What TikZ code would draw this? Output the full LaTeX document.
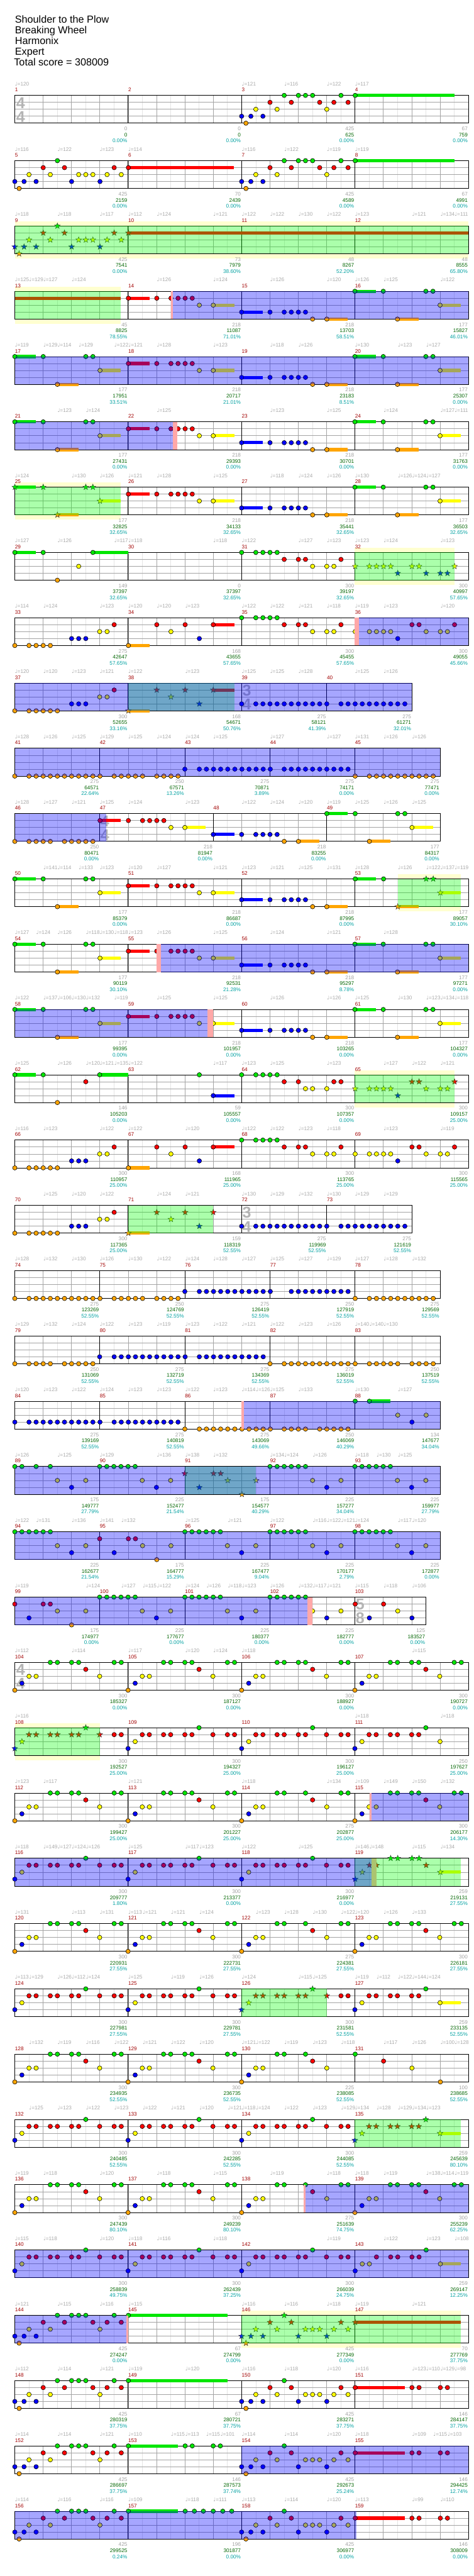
\documentclass[tikz,border=0pt]{standalone}
\usepackage{fontspec}
\setmainfont{Liberation Sans}
\newfontfamily\symfont{DejaVu Sans}
\usetikzlibrary{shapes.geometric}
\definecolor{lane0}{HTML}{00E600}
\definecolor{lane1}{HTML}{FF0000}
\definecolor{lane2}{HTML}{FFFF00}
\definecolor{lane3}{HTML}{0000FF}
\definecolor{lane4}{HTML}{FFA500}
\definecolor{gridlt}{HTML}{E4E4E4}
\definecolor{gridmd}{HTML}{A4A4A4}
\definecolor{odyel}{HTML}{FFFFD0}
\definecolor{odgreen}{HTML}{00FF00}
\definecolor{actblue}{HTML}{0000FF}
\definecolor{pinkbar}{HTML}{FFA8A8}
\definecolor{mnred}{HTML}{A00000}
\definecolor{tempog}{HTML}{A8A8A8}
\definecolor{scgray}{HTML}{A0A0A0}
\definecolor{scgreen}{HTML}{006400}
\definecolor{scteal}{HTML}{00A0A0}
\definecolor{tsgray}{HTML}{B4B4B4}
\pgfdeclarelayer{bg}\pgfdeclarelayer{ov}\pgfsetlayers{bg,main,ov}
\newcommand\lblfont{\fontsize{5.6}{6}\selectfont}
% row k: staff top at 206+141k, lanes 15 apart
\newcommand\staff[3]{\begin{scope}[shift={(0,{206+141*#1})}]
 \foreach \x in {93.9375,185.8125,...,#2} \draw[minor] (\x,0) -- (\x,60);
 \foreach \x in {139.875,231.75,...,#2} \draw[major] (\x,0) -- (\x,60);
 \foreach \y in {15,30,45} \draw[major] (48,\y) -- (#2,\y);
 \foreach \x in {#3} \draw[barl] (\x,0) -- (\x,60);
 \draw[barl] (48,0) rectangle (#2,60);
 \end{scope}}
\newcommand\gm[4][0]{\foreach \x in {#4}{\filldraw[gem,fill=lane#3] ({#1+\x},{206+141*#2+15*#3}) circle (2.4pt);}}
\newcommand\sr[4][0]{\foreach \x in {#4}{\pgfmathtruncatemacro\xx{#1+\x}%
 \node[stargem,fill=lane#3] (st-#2-#3-\xx) at ({#1+\x},{206+141*#2+15*#3}) {};}}
\newcommand\sus[4]{\fill[lane#2] ({#3},{206+141*#1+15*#2-3.5}) rectangle ({#4},{206+141*#1+15*#2+3.5});}
\newcommand\odm[3]{\begin{pgfonlayer}{bg}\fill[odyel] ({#2},{196+141*#1}) rectangle ({#3},{206+141*#1});
 \fill[odyel] ({#2},{266+141*#1}) rectangle ({#3},{276+141*#1});\end{pgfonlayer}}
\newcommand\odr[3]{\begin{pgfonlayer}{ov}\fill[odgreen,opacity=0.33] ({#2},{206+141*#1}) rectangle ({#3},{266+141*#1});\end{pgfonlayer}}
\newcommand\act[3]{\begin{pgfonlayer}{ov}\fill[actblue,opacity=0.35] ({#2},{206+141*#1}) rectangle ({#3},{266+141*#1});\end{pgfonlayer}}
\newcommand\pinkbar[3]{\begin{pgfonlayer}{ov}\fill[pinkbar] ({#2},{206+141*#1}) rectangle ({#3},{266+141*#1});\end{pgfonlayer}}
\newcommand\tsig[4]{\node[tsg] (ts-#1-a) at (#2,{222+141*#1}) {#3};\node[tsg] (ts-#1-b) at (#2,{252+141*#1}) {#4};}
\newcommand\mnums[2]{\foreach \x/\n in {#2}{\node[mnum] (m\n) at (\x,{198+141*#1}) {\n};}}
\newcommand\tempos[2]{\foreach \x/\tv in {#2}{\node[tmp] (tp-#1-\x) at (\x,{185+141*#1}) {{\symfont ♩}=\tv};}}
\newcommand\scores[2]{\foreach \x/\sA/\sB/\sC in {#2}{%
 \node[scA] (sa-#1-\x) at ({\x-2},{282+141*#1}) {\sA};
 \node[scB] (sb-#1-\x) at ({\x-2},{295+141*#1}) {\sB};
 \node[scC] (sc-#1-\x) at ({\x-2},{308+141*#1}) {\sC\%};}}
% riffs, offsets from the measure start
\newcommand\patA[3]{#3[#2]{#1}{3}{0,30,69}#3[#2]{#1}{4}{14}#3[#2]{#1}{2}{46,115,276}#3[#2]{#1}{1}{92,161,253,299,345}#3[#2]{#1}{0}{138,184,207,230,322,368}}
\newcommand\patAp[3]{#3[#2]{#1}{3}{0,30,69,184,276}#3[#2]{#1}{4}{14}#3[#2]{#1}{2}{46,115,207,230,253,299,345}#3[#2]{#1}{1}{92,161,322,368}#3[#2]{#1}{0}{138}}
\newcommand\patR[3]{\sus{#1}{1}{#2+1}{#2+69}\sus{#1}{2}{#2+276}{#2+344}#3[#2]{#1}{1}{1,93,139,162,185,208}#3[#2]{#1}{2}{231,276}}
\newcommand\patB[3]{\sus{#1}{3}{#2}{#2+68}\sus{#1}{4}{#2+276}{#2+344}#3[#2]{#1}{3}{0,92,138,161,184,207}#3[#2]{#1}{4}{230,276}}
\newcommand\patG[3]{\sus{#1}{0}{#2}{#2+68}\sus{#1}{4}{#2+138}{#2+206}\sus{#1}{2}{#2+276}{#2+344}#3[#2]{#1}{0}{0,92,230,253}#3[#2]{#1}{4}{138}#3[#2]{#1}{2}{276}}
\newcommand\patX[3]{#3[#2]{#1}{4}{0,46,69,92,115}#3[#2]{#1}{3}{184,207,230}#3[#2]{#1}{2}{275,299}#3[#2]{#1}{1}{322}}
\newcommand\patY[3]{\sus{#1}{4}{#2+1}{#2+69}#3[#2]{#1}{4}{1}#3[#2]{#1}{1}{93,185,276}#3[#2]{#1}{2}{139}#3[#2]{#1}{3}{231}}
\newcommand\patZ[3]{#3[#2]{#1}{0}{0,46,69,92,115}#3[#2]{#1}{1}{138,184,207,322}#3[#2]{#1}{2}{230,276,299}}
\newcommand\patW[3]{#3[#2]{#1}{2}{1,47,70,93,116,231,277,300}#3[#2]{#1}{1}{185,208,323}#3[#2]{#1}{3}{139}}
\newcommand\patQ[3]{#3[#2]{#1}{4}{0}#3[#2]{#1}{3}{23}#3[#2]{#1}{2}{46,69,275}#3[#2]{#1}{0}{115,138,184,207,322,345}#3[#2]{#1}{1}{230}}
\newcommand\patQb[3]{#3[#2]{#1}{4}{0}#3[#2]{#1}{3}{23}#3[#2]{#1}{2}{46,69,276}#3[#2]{#1}{0}{115,138,207}#3[#2]{#1}{1}{230}}
\newcommand\patS[3]{#3[#2]{#1}{3}{0}#3[#2]{#1}{2}{23}#3[#2]{#1}{1}{46,69,115,138,184,207,275,322,345}#3[#2]{#1}{0}{230}}
\newcommand\patSb[3]{#3[#2]{#1}{3}{0}#3[#2]{#1}{2}{23,276}#3[#2]{#1}{1}{46,69,115,138,184,207}#3[#2]{#1}{0}{230}}
\newcommand\patV[3]{#3[#2]{#1}{0}{0,23,46,69,92,115}#3[#2]{#1}{2}{138,230}#3[#2]{#1}{3}{184}}
\begin{document}
\begin{tikzpicture}[x=0.33333pt,y=-0.5pt,
 minor/.style={gridlt,line width=0.5pt},
 major/.style={gridmd,line width=0.5pt},
 barl/.style={black,line width=0.6pt},
 gem/.style={draw=black,line width=0.4pt},
 stargem/.style={star,star points=5,star point ratio=2.4,minimum size=6.6pt,inner sep=0pt,draw=black!80,line width=0.3pt},
 ttl/.style={anchor=base west,inner sep=0pt,font=\fontsize{11}{12}\selectfont},
 mnum/.style={anchor=base west,inner sep=0pt,text=mnred,font=\lblfont},
 tmp/.style={anchor=base west,inner sep=0pt,text=tempog,font=\lblfont},
 scA/.style={anchor=base east,inner sep=0pt,text=scgray,font=\lblfont},
 scB/.style={anchor=base east,inner sep=0pt,text=scgreen,font=\lblfont},
 scC/.style={anchor=base east,inner sep=0pt,text=scteal,font=\lblfont},
 tsg/.style={inner sep=0pt,text=tsgray,font=\fontsize{17}{17}\selectfont\bfseries}]
\useasboundingbox (0,0) rectangle (1536,5563);
\node[ttl] (song) at (48,50) {Shoulder to the Plow};
\node[ttl] (band) at (48,73) {Breaking Wheel};
\node[ttl] (author) at (48,96) {Harmonix};
\node[ttl] (level) at (48,119) {Expert};
\node[ttl] (total) at (45,142) {Total score = 308009};
% 1-4
\staff{0}{1518}{415,783,1150}\tsig{0}{67}{4}{4}
\sus{0}{0}{1151}{1472}\patA{0}{783}{\gm}
\mnums{0}{48/1,415/2,783/3,1150/4}
\tempos{0}{48/120,783/121,921/116,1059/122,1150/117}
\scores{0}{415/0/0/0.00,783/0/0/0.00,1150/425/625/0.00,1518/67/759/0.00}
% 5-8
\staff{1}{1518}{415,783,1150}
\sus{1}{1}{416}{758}\patAp{1}{48}{\gm}\sus{1}{0}{1151}{1472}\patA{1}{783}{\gm}
\mnums{1}{48/5,415/6,783/7,1150/8}
\tempos{1}{48/116,186/122,323/123,415/114,783/116,921/122,1059/119,1150/119}
\scores{1}{415/425/2159/0.00,783/70/2439/0.00,1150/425/4589/0.00,1518/67/4991/0.00}
% 9-12
\odm{2}{48}{1518}\staff{2}{1518}{415,783,1150}
\sus{2}{1}{416}{1518}\patAp{2}{48}{\sr}
\odr{2}{48}{1518}
\mnums{2}{48/9,415/10,783/11,1150/12}
\tempos{2}{48/118,186/118,323/117,415/112,508/124,691/121,783/122,875/122,967/130,1059/122,1150/123,1335/121,1427/134,1473/111}
\scores{2}{415/425/7541/0.00,783/73/7979/38.60,1150/48/8267/52.20,1518/48/8555/65.80}
% 13-16
\odm{3}{48}{392}\staff{3}{1518}{415,783,1150}
\sus{3}{1}{48}{392}\patR{3}{415}{\gm}\patB{3}{783}{\gm}\patG{3}{1150}{\gm}
\pinkbar{3}{554}{561}\odr{3}{48}{392}\act{3}{561}{1518}
\mnums{3}{48/13,415/14,783/15,1150/16}
\tempos{3}{48/125,94/129,140/127,232/124,508/126,691/124,875/126,1059/120,1150/126,1243/125,1427/122}
\scores{3}{415/45/8825/78.55,783/218/11087/71.01,1150/218/13703/58.51,1518/177/15827/46.01}
% 17-20
\staff{4}{1518}{415,783,1150}
\patG{4}{48}{\gm}\patR{4}{415}{\gm}\patB{4}{783}{\gm}\patG{4}{1150}{\gm}
\act{4}{48}{1518}
\mnums{4}{48/17,415/18,783/19,1150/20}
\tempos{4}{48/119,140/129,186/114,255/129,370/122,416/121,508/128,691/123,875/118,967/126,1150/130,1289/123,1381/127}
\scores{4}{415/177/17951/33.51,783/218/20717/21.01,1150/218/23183/8.51,1518/177/25307/0.00}
% 21-24
\staff{5}{1518}{415,783,1150}
\patG{5}{48}{\gm}\patR{5}{415}{\gm}\patB{5}{783}{\gm}\patG{5}{1150}{\gm}
\pinkbar{5}{560}{575}\act{5}{48}{560}
\mnums{5}{48/21,415/22,783/23,1150/24}
\tempos{5}{186/123,278/124,508/125,875/123,1059/125,1243/124,1427/127,1473/111}
\scores{5}{415/177/27431/0.00,783/218/29393/0.00,1150/218/30701/0.00,1518/177/31763/0.00}
% 25-28
\odm{6}{48}{392}\staff{6}{1518}{415,783,1150}
\patG{6}{48}{\sr}\patR{6}{415}{\gm}\patB{6}{783}{\gm}\patG{6}{1150}{\gm}
\odr{6}{48}{392}
\mnums{6}{48/25,415/26,783/27,1150/28}
\tempos{6}{48/124,232/130,323/126,415/121,508/128,691/125,875/118,967/124,1059/126,1150/130,1289/126,1335/124,1381/127}
\scores{6}{415/177/32825/32.65,783/218/34133/32.65,1150/218/35441/32.65,1518/177/36503/32.65}
% 29-32
\odm{7}{1150}{1472}\staff{7}{1518}{415,783,1150}
\sus{7}{0}{48}{116}\sus{7}{0}{301}{415}\gm{7}{0}{48,140,301}\gm{7}{4}{186}\gm{7}{2}{255}
\patZ{7}{783}{\gm}
\sr{7}{2}{1151,1197,1220,1243,1266,1335,1358,1473}\sr{7}{3}{1289,1381,1427,1450}
\odr{7}{1150}{1472}
\mnums{7}{48/29,415/30,783/31,1150/32}
\tempos{7}{48/127,186/126,370/117,416/118,691/118,783/122,967/127,1059/123,1150/123,1243/124,1427/123}
\scores{7}{415/149/37397/32.65,783/0/37397/32.65,1150/300/39197/32.65,1518/300/40997/57.65}
% 33-36
\staff{8}{1518}{415,783,1150}
\patX{8}{48}{\gm}\sus{8}{1}{691}{759}\patY{8}{415}{\gm}\patZ{8}{783}{\gm}\patW{8}{1150}{\gm}
\pinkbar{8}{1150}{1163}\act{8}{1163}{1518}
\mnums{8}{48/33,415/34,783/35,1150/36}
\tempos{8}{48/114,140/124,323/123,415/120,508/120,600/123,783/122,875/122,967/121,1059/118,1150/119,1243/123,1427/120}
\scores{8}{415/275/42647/57.65,783/168/43655/57.65,1150/300/45455/57.65,1518/300/49055/45.66}
% 37-40
\staff{9}{1335}{415,783,1059}\tsig{9}{800}{3}{4}
\patX{9}{48}{\gm}\gm{9}{4}{186}\sus{9}{1}{691}{759}\patY{9}{415}{\sr}
\gm{9}{3}{783}\gm{9}{3}{829,852,...,1059}\gm{9}{3}{1105,1128,...,1312}
\odr{9}{415}{759}\act{9}{48}{1335}
\mnums{9}{48/37,415/38,783/39,1059/40}
\tempos{9}{48/120,140/120,232/123,323/121,415/122,600/123,783/125,875/125,967/128,1150/125,1243/126}
\scores{9}{415/300/52655/33.16,783/168/54671/50.76,1059/275/58121/41.39,1335/275/61271/32.01}
% 41-45
\staff{10}{1426}{323,599,875,1150}
\gm{10}{4}{48}\gm{10}{4}{94,117,...,324}\gm{10}{4}{370,393,...,462}\gm{10}{4}{508,531,554,577}
\gm{10}{3}{599}\gm{10}{3}{646,669,...,876}\gm{10}{3}{921,944,...,1128}
\gm{10}{4}{1151}\gm{10}{4}{1197,1220,...,1404}
\act{10}{48}{1426}
\mnums{10}{48/41,323/42,599/43,875/44,1150/45}
\tempos{10}{48/128,140/126,232/125,323/129,415/125,508/124,600/124,691/125,875/127,1059/127,1150/131,1243/126,1335/126}
\scores{10}{323/275/64571/22.64,599/250/67571/13.26,875/275/70871/3.89,1150/275/74171/0.00,1426/275/77471/0.00}
% 46-49
\staff{11}{1426}{323,691,1059}\tsig{11}{340}{4}{4}
\gm{11}{4}{48,94,117,140,163,209,232,255,278,301}
\patR{11}{323}{\gm}\patB{11}{691}{\gm}\patG{11}{1059}{\gm}
\act{11}{48}{345}
\mnums{11}{48/46,323/47,691/48,1059/49}
\tempos{11}{48/128,140/127,232/121,323/125,415/124,600/123,783/122,875/124,967/120,1059/119,1150/125,1243/126,1335/125}
\scores{11}{323/250/80471/0.00,691/218/81947/0.00,1059/218/83255/0.00,1426/177/84317/0.00}
% 50-53
\odm{12}{1289}{1494}\staff{12}{1518}{415,783,1150}
\patG{12}{48}{\gm}\patR{12}{415}{\gm}\patB{12}{783}{\gm}
\sus{12}{0}{1151}{1219}\sus{12}{4}{1289}{1357}\sus{12}{2}{1427}{1494}
\gm{12}{0}{1151,1243}\sr{12}{4}{1289}\sr{12}{0}{1381,1404}\sr{12}{2}{1427}
\odr{12}{1289}{1494}
\mnums{12}{48/50,415/51,783/52,1150/53}
\tempos{12}{140/141,186/114,255/133,323/123,415/120,508/127,691/121,783/123,875/121,967/125,1059/131,1150/128,1289/126,1381/122,1427/137,1473/119}
\scores{12}{415/177/85379/0.00,783/218/86687/0.00,1150/218/87995/0.00,1518/177/89057/30.10}
% 54-57
\staff{13}{1518}{415,783,1150}
\patG{13}{48}{\gm}\patR{13}{415}{\gm}\patB{13}{783}{\gm}\patG{13}{1150}{\gm}
\pinkbar{13}{508}{521}\act{13}{521}{1518}
\mnums{13}{48/54,415/55,783/56,1150/57}
\tempos{13}{48/127,117/124,186/126,278/118,323/130,370/118,416/123,508/126,691/125,875/124,1059/121,1243/128}
\scores{13}{415/177/90119/30.10,783/218/92531/21.28,1150/218/95297/8.78,1518/177/97271/0.00}
% 58-61
\staff{14}{1518}{415,783,1150}
\patG{14}{48}{\gm}\patR{14}{415}{\gm}\patB{14}{783}{\gm}\patG{14}{1150}{\gm}
\pinkbar{14}{672}{691}\act{14}{48}{672}
\mnums{14}{48/58,415/59,783/60,1150/61}
\tempos{14}{48/122,140/137,186/106,232/130,278/132,370/119,508/125,691/125,875/126,1059/126,1150/125,1289/130,1381/123,1427/134,1473/118}
\scores{14}{415/177/99395/0.00,783/218/101957/0.00,1150/218/103265/0.00,1518/177/104327/0.00}
% 62-65
\odm{15}{1150}{1472}\staff{15}{1518}{415,783,1150}
\sus{15}{0}{48}{116}\sus{15}{0}{323}{415}\gm{15}{0}{48,140,323}\gm{15}{4}{186}\gm{15}{1}{278}
\gm{15}{0}{646}\sus{15}{3}{691}{759}\gm{15}{3}{691}
\gm{15}{0}{783,829,852,875,898}\gm{15}{1}{921,967,1082,1105}\gm{15}{2}{990,1013,1059}
\patW{15}{1150}{\sr}
\odr{15}{1150}{1472}
\mnums{15}{48/62,415/63,783/64,1150/65}
\tempos{15}{48/125,186/126,278/120,323/121,370/135,416/122,691/117,783/123,875/125,1059/123,1243/127,1335/122,1427/121}
\scores{15}{415/146/105203/0.00,783/59/105557/0.00,1150/300/107357/0.00,1518/300/109157/25.00}
% 66-69
\staff{16}{1518}{415,783,1150}
\patX{16}{48}{\gm}\gm{16}{4}{186}\sus{16}{1}{691}{759}\patY{16}{415}{\gm}\patZ{16}{783}{\gm}\patW{16}{1150}{\gm}
\mnums{16}{48/66,415/67,783/68,1150/69}
\tempos{16}{48/116,140/123,323/122,415/122,600/120,783/122,875/122,967/123,1059/118,1243/123,1427/119}
\scores{16}{415/300/110957/25.00,783/168/111965/25.00,1150/300/113765/25.00,1518/300/115565/25.00}
% 70-73
\staff{17}{1335}{415,783,1059}\tsig{17}{800}{3}{4}
\patX{17}{48}{\gm}\gm{17}{4}{186}\patY{17}{415}{\sr}
\gm{17}{3}{783}\gm{17}{3}{829,852,...,1059}\gm{17}{3}{1105,1128,...,1312}
\odr{17}{415}{691}
\mnums{17}{48/70,415/71,783/72,1059/73}
\tempos{17}{140/125,232/120,323/122,508/124,600/121,783/130,875/129,967/132,1059/130,1150/129,1243/129}
\scores{17}{415/300/117365/25.00,783/159/118319/52.55,1059/275/119969/52.55,1335/275/121619/52.55}
% 74-78
\staff{18}{1426}{323,599,875,1150}
\gm{18}{4}{48}\gm{18}{4}{94,117,...,324}\gm{18}{4}{370,393,...,462}\gm{18}{4}{508,531,554,577}
\gm{18}{3}{599}\gm{18}{3}{646,669,...,876}\gm{18}{3}{944,967,...,1128}
\gm{18}{4}{1151}\gm{18}{4}{1197,1220,...,1404}
\mnums{18}{48/74,323/75,599/76,875/77,1150/78}
\tempos{18}{48/128,140/132,232/130,323/126,415/130,508/122,600/124,691/128,783/127,875/125,967/127,1059/129,1150/127,1243/128,1335/132}
\scores{18}{323/275/123269/52.55,599/250/124769/52.55,875/275/126419/52.55,1150/250/127919/52.55,1426/275/129569/52.55}
% 79-83
\staff{19}{1426}{323,599,875,1150}
\gm{19}{4}{48,94,117,140,163,209,232,255,278,301}
\gm{19}{3}{323}\gm{19}{3}{370,393,...,600}\gm{19}{3}{646,669,...,853}
\gm{19}{4}{875}\gm{19}{4}{921,944,...,1151}\gm{19}{4}{1197,1220,1243,1266,1289,1335,1358,1381,1404}
\mnums{19}{48/79,323/80,599/81,875/82,1150/83}
\tempos{19}{48/129,140/132,232/124,323/122,415/123,508/119,600/123,691/122,783/121,875/122,967/123,1059/126,1150/140,1197/140,1243/130}
\scores{19}{323/250/131069/52.55,599/275/132719/52.55,875/275/134369/52.55,1150/275/136019/52.55,1426/250/137519/52.55}
% 84-88
\staff{20}{1426}{323,599,875,1150}
\gm{20}{3}{48}\gm{20}{3}{94,117,...,324}\gm{20}{3}{370,393,...,577}
\gm{20}{4}{599}\gm{20}{4}{646,669,...,876}\gm{20}{4}{921,944,967,990,1036,1059,1082,1105,1128}
\sus{20}{0}{1197}{1265}\gm{20}{0}{1151,1197}\gm{20}{2}{1289,1381}\gm{20}{3}{1335}
\pinkbar{20}{783}{790}\act{20}{790}{1426}
\mnums{20}{48/84,323/85,599/86,875/87,1150/88}
\tempos{20}{48/120,140/123,232/122,323/124,415/123,508/123,600/122,691/123,783/114,829/126,875/125,967/133,1150/130,1289/127}
\scores{20}{323/275/139169/52.55,599/275/140819/52.55,875/275/143069/49.66,1150/250/146069/40.29,1426/134/147677/34.04}
% 89-93
\staff{21}{1426}{323,599,875,1150}
\gm{21}{0}{48,71,117,163}\gm{21}{2}{186,278}\gm{21}{3}{232}\patV{21}{323}{\gm}
\sr{21}{1}{599,692,715}\sr{21}{3}{646}\sr{21}{2}{738,830}\sr{21}{4}{784}
\patV{21}{875}{\gm}\patV{21}{1150}{\gm}
\odr{21}{599}{829}\act{21}{48}{1426}
\mnums{21}{48/89,323/90,599/91,875/92,1150/93}
\tempos{21}{48/126,186/125,323/129,508/136,600/138,691/132,875/134,921/124,1013/126,1150/118,1220/130,1289/125}
\scores{21}{323/175/149777/27.79,599/225/152477/21.54,875/175/154577/40.29,1150/225/157277/34.04,1426/225/159977/27.79}
% 94-98
\staff{22}{1426}{323,599,875,1150}
\patV{22}{48}{\gm}\gm{22}{1}{323,416,439}\gm{22}{3}{370}\gm{22}{2}{462,554}\gm{22}{4}{508}
\patV{22}{599}{\gm}\patV{22}{875}{\gm}\patV{22}{1150}{\gm}
\act{22}{48}{1426}
\mnums{22}{48/94,323/95,599/96,875/97,1150/98}
\tempos{22}{48/122,117/131,232/136,323/141,393/132,600/125,738/121,875/122,1013/116,1059/122,1105/121,1150/124,1289/117,1335/120}
\scores{22}{323/225/162677/21.54,599/175/164777/15.29,875/225/167477/9.04,1150/225/170177/2.79,1426/225/172877/0.00}
% 99-103
\staff{23}{1380}{323,599,875,1150}\tsig{23}{1167}{5}{8}
\gm{23}{1}{48,140,163}\gm{23}{3}{94}\gm{23}{2}{186,278}\gm{23}{4}{232}
\patV{23}{323}{\gm}\patV{23}{599}{\gm}\patV{23}{875}{\gm}
\gm{23}{1}{1151,1243}\gm{23}{2}{1289}\gm{23}{3}{1197,1335}
\pinkbar{23}{997}{1013}\act{23}{48}{997}
\mnums{23}{48/99,323/100,599/101,875/102,1150/103}
\tempos{23}{48/119,278/124,393/127,462/115,508/122,600/124,669/126,738/118,784/123,875/126,967/132,1013/117,1059/121,1150/115,1243/118,1335/106}
\scores{23}{323/175/174977/0.00,599/225/177677/0.00,875/225/180377/0.00,1150/225/182777/0.00,1380/125/183527/0.00}
% 104-107
\staff{24}{1518}{415,783,1150}\tsig{24}{67}{4}{4}
\patQ{24}{48}{\gm}\patQ{24}{415}{\gm}\patQ{24}{783}{\gm}\patQ{24}{1150}{\gm}
\mnums{24}{48/104,415/105,783/106,1150/107}
\tempos{24}{48/112,232/114,415/117,600/120,691/124,783/118,1335/115}
\scores{24}{415/300/185327/0.00,783/300/187127/0.00,1150/300/188927/0.00,1518/300/190727/0.00}
% 108-111
\odm{25}{48}{323}\staff{25}{1518}{415,783,1150}
\sr{25}{3}{48}\sr{25}{2}{71}\sr{25}{1}{94,117,163,186,232,255,323}\sr{25}{0}{278}\gm{25}{1}{370,393}
\patS{25}{415}{\gm}\patS{25}{783}{\gm}\patSb{25}{1150}{\gm}
\odr{25}{48}{323}
\mnums{25}{48/108,415/109,783/110,1150/111}
\tempos{25}{48/116,1150/118,1427/118}
\scores{25}{415/300/192527/25.00,783/300/194327/25.00,1150/300/196127/25.00,1518/250/197627/25.00}
% 112-115
\staff{26}{1518}{415,783,1150}
\patQ{26}{48}{\gm}\patQ{26}{415}{\gm}\patQb{26}{783}{\gm}\gm{26}{0}{1105,1128}\patQ{26}{1150}{\gm}
\pinkbar{26}{1197}{1203}\act{26}{1203}{1518}
\mnums{26}{48/112,415/113,783/114,1150/115}
\tempos{26}{48/123,140/117,415/121,783/118,1059/134,1150/109,1243/149,1335/150,1427/132}
\scores{26}{415/300/199427/25.00,783/300/201227/25.00,1150/275/202877/25.00,1518/300/206177/14.30}
% 116-119
\staff{27}{1518}{415,783,1150}
\patS{27}{48}{\gm}\patS{27}{415}{\gm}\patS{27}{783}{\gm}
\sus{27}{2}{1427}{1494}\sr{27}{3}{1151}\sr{27}{2}{1174,1427}\sr{27}{1}{1197,1220,1381}\sr{27}{0}{1266,1289,1335,1358}
\pinkbar{27}{1203}{1220}\odr{27}{1150}{1494}\act{27}{48}{1203}
\mnums{27}{48/116,415/117,783/118,1150/119}
\tempos{27}{48/118,140/149,186/127,232/124,278/126,415/125,600/117,646/123,783/122,967/125,1150/146,1197/148,1335/115,1427/134}
\scores{27}{415/300/209777/1.80,783/300/213377/0.00,1150/300/216977/0.00,1518/259/219131/27.55}
% 120-123
\staff{28}{1518}{415,783,1150}
\patQ{28}{48}{\gm}\patQ{28}{415}{\gm}\patQb{28}{783}{\gm}\gm{28}{0}{1105,1128}\patQ{28}{1150}{\gm}
\mnums{28}{48/120,415/121,783/122,1150/123}
\tempos{28}{48/131,232/113,323/131,415/113,462/121,554/121,646/124,829/123,921/128,1013/130,1105/122,1150/120,1243/126,1335/133}
\scores{28}{415/300/220931/27.55,783/300/222731/27.55,1150/275/224381/27.55,1518/300/226181/27.55}
% 124-127
\staff{29}{1518}{415,783,1150}
\patS{29}{48}{\gm}\patS{29}{415}{\gm}
\sr{29}{3}{783}\sr{29}{2}{806}\sr{29}{1}{829,852,898,921,967,990,1059}\sr{29}{0}{1013}\gm{29}{1}{1105,1128}
\sus{29}{2}{1427}{1494}\patSb{29}{1150}{\gm}
\odr{29}{783}{1059}
\mnums{29}{48/124,415/125,783/126,1150/127}
\tempos{29}{48/113,94/129,186/126,232/112,278/124,415/125,554/119,646/126,783/124,967/115,1013/125,1150/119,1220/112,1289/122,1335/144,1381/124}
\scores{29}{415/300/227981/27.55,783/300/229781/27.55,1150/300/231581/52.55,1518/259/233135/52.55}
% 128-131
\staff{30}{1518}{415,783,1150}
\patQ{30}{48}{\gm}\patQ{30}{415}{\gm}\patQb{30}{783}{\gm}
\gm{30}{0}{1151}\gm{30}{1}{1243}\gm{30}{2}{1335}\gm{30}{4}{1427}
\mnums{30}{48/128,415/129,783/130,1150/131}
\tempos{30}{94/132,186/119,278/116,370/122,462/121,554/122,646/120,783/121,829/122,921/119,1013/123,1105/118,1243/117,1335/126,1427/100,1473/128}
\scores{30}{415/300/234935/52.55,783/300/236735/52.55,1150/225/238085/52.55,1518/100/238685/52.55}
% 132-135
\staff{31}{1518}{415,783,1150}
\patS{31}{48}{\gm}\patS{31}{415}{\gm}\patS{31}{783}{\gm}
\sus{31}{2}{1427}{1494}\patSb{31}{1150}{\sr}
\odr{31}{1150}{1494}
\mnums{31}{48/132,415/133,783/134,1150/135}
\tempos{31}{94/125,186/123,278/122,370/123,462/122,554/121,646/120,738/121,783/118,829/124,921/122,1013/123,1105/129,1150/134,1220/128,1289/129,1335/134,1381/123}
\scores{31}{415/300/240485/52.55,783/300/242285/52.55,1150/300/244085/52.55,1518/259/245639/80.10}
% 136-139
\staff{32}{1518}{415,783,1150}
\patQ{32}{48}{\gm}\patQ{32}{415}{\gm}\patQb{32}{783}{\gm}\gm{32}{0}{1105,1128}\patQ{32}{1150}{\gm}
\pinkbar{32}{985}{990}\act{32}{990}{1518}
\mnums{32}{48/136,415/137,783/138,1150/139}
\tempos{32}{48/119,140/118,323/120,508/118,691/115,875/119,1059/118,1150/118,1243/119,1381/138,1427/114,1473/119}
\scores{32}{415/300/247439/80.10,783/300/249239/80.10,1150/275/251639/74.75,1518/300/255239/62.25}
% 140-143
\staff{33}{1518}{415,783,1150}
\patS{33}{48}{\gm}\patS{33}{415}{\gm}\patS{33}{783}{\gm}
\sus{33}{2}{1427}{1494}\gm{33}{3}{1151}\gm{33}{2}{1174,1197,1427}\gm{33}{1}{1220,1266,1289,1335,1358}\gm{33}{0}{1381}
\act{33}{48}{1518}
\mnums{33}{48/140,415/141,783/142,1150/143}
\tempos{33}{48/115,140/118,323/120,416/118,508/116,691/118,1059/119,1243/122,1381/123,1473/108}
\scores{33}{415/300/258839/49.75,783/300/262439/37.25,1150/300/266039/24.75,1518/259/269147/12.25}
% 144-147
\odm{34}{783}{1494}\staff{34}{1518}{415,783,1150}
\sus{34}{0}{416}{737}\patA{34}{48}{\gm}
\sus{34}{1}{1151}{1494}\patAp{34}{783}{\sr}
\pinkbar{34}{410}{416}\odr{34}{783}{1494}\act{34}{48}{410}
\mnums{34}{48/144,415/145,783/146,1150/147}
\tempos{34}{48/121,186/115,323/116,416/115,783/116,921/116,1059/118,1150/119,1335/121}
\scores{34}{415/425/274247/0.00,783/67/274799/0.00,1150/425/277349/0.00,1518/70/277769/37.75}
% 148-151
\staff{35}{1518}{415,783,1150}
\sus{35}{0}{416}{737}\patA{35}{48}{\gm}
\sus{35}{1}{1151}{1311}\patAp{35}{783}{\gm}\gm{35}{1}{1335,1358,1427,1450}
\mnums{35}{48/148,415/149,783/150,1150/151}
\tempos{35}{48/112,186/114,323/121,416/119,600/120,783/116,921/118,1059/120,1150/116,1335/123,1381/110,1427/129,1473/98}
\scores{35}{415/425/280319/37.75,783/67/280721/37.75,1150/425/283271/37.75,1518/146/284147/37.75}
% 152-155
\staff{36}{1518}{415,783,1150}
\sus{36}{0}{416}{576}\patA{36}{48}{\gm}\gm{36}{0}{600,623,691,714}
\sus{36}{1}{1151}{1311}\patAp{36}{783}{\gm}\gm{36}{1}{1335,1358,1427,1450}
\act{36}{783}{1518}
\mnums{36}{48/152,415/153,783/154,1150/155}
\tempos{36}{48/114,186/114,323/121,415/110,554/115,600/113,668/115,714/101,783/114,921/114,1059/120,1150/118,1335/109,1404/115,1450/103}
\scores{36}{415/425/286697/37.75,783/146/287573/37.74,1150/425/292673/25.24,1518/146/294425/12.74}
% 156-159
\staff{37}{1518}{415,783,1150}
\sus{37}{0}{416}{576}\patA{37}{48}{\gm}\gm{37}{0}{600,630,659,691,722,751}
\sus{37}{1}{1151}{1311}\patAp{37}{783}{\gm}\gm{37}{1}{1335,1358,1427,1450}
\act{37}{48}{1155}
\mnums{37}{48/156,415/157,783/158,1150/159}
\tempos{37}{48/114,186/116,323/116,415/109,600/118,691/111,783/113,921/114,1059/120,1150/113,1335/99,1427/110}
\scores{37}{415/425/299525/0.24,783/196/301877/0.00,1150/425/306977/0.00,1518/146/308009/0.00}
\end{tikzpicture}
\end{document}
